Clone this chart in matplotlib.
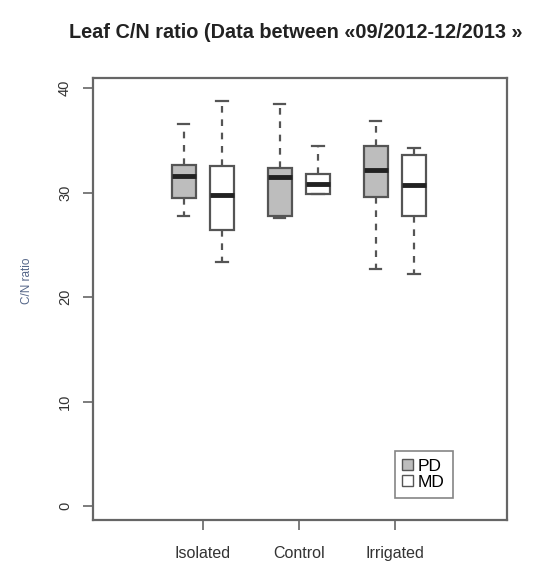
import matplotlib.pyplot as plt
import matplotlib.patches as mpatches

plt.rcParams['font.family'] = ['Liberation Sans', 'DejaVu Sans']

# groups and series
groups = ['Isolated', 'Control', 'Irrigated']
series = ['PD', 'MD']

# box statistics (per group: PD, MD)
whis_hi = [[36.6, 38.8], [38.5, 34.5], [36.9, 34.3]]
q3 = [[32.7, 32.6], [32.4, 31.8], [34.5, 33.6]]
medians = [[31.6, 29.8], [31.5, 30.8], [32.2, 30.7]]
q1 = [[29.5, 26.4], [27.8, 29.9], [29.6, 27.8]]
whis_lo = [[27.8, 23.4], [27.6, 29.9], [22.7, 22.2]]

fill_colors = {'PD': '#bdbdbd', 'MD': 'white'}
edge = '#555555'

fig = plt.figure(figsize=(5.37, 5.68), dpi=100)
ax = fig.add_axes([0.173, 0.085, 0.771, 0.778])

for s_i, s in enumerate(series):
    stats = []
    pos = []
    for g_i in range(len(groups)):
        stats.append({
            'med': medians[g_i][s_i], 'q1': q1[g_i][s_i], 'q3': q3[g_i][s_i],
            'whislo': whis_lo[g_i][s_i], 'whishi': whis_hi[g_i][s_i], 'fliers': [],
        })
        pos.append(g_i + 1 + (-0.2 if s_i == 0 else 0.2))
    ax.bxp(stats, positions=pos, widths=0.25, patch_artist=True, showfliers=False,
           boxprops=dict(facecolor=fill_colors[s], edgecolor=edge, linewidth=1.6),
           medianprops=dict(color='#222222', linewidth=3.5),
           whiskerprops=dict(color=edge, linewidth=1.6, linestyle=(0, (3, 3))),
           capprops=dict(color=edge, linewidth=1.6),
           capwidths=0.12)

ax.set_xlim(-0.146, 4.167)
ax.set_ylim(-1.3, 41.0)
ax.set_xticks([1, 2, 3])
ax.set_xticklabels(groups, fontsize=11.5, color='#333333')
ax.set_yticks([0, 10, 20, 30, 40])
ax.set_yticklabels(['0', '10', '20', '30', '40'], rotation=90, va='center',
                   fontsize=10.5, color='#333333')
ax.tick_params(axis='both', length=7, width=1.2, color='#666666', pad=8)
ax.tick_params(axis='x', pad=12)
for sp in ax.spines.values():
    sp.set_color('#666666')
    sp.set_linewidth(1.6)

ax.set_ylabel('C/N ratio', fontsize=8.5, color='#556688')
ax.yaxis.set_label_coords(-0.145, 0.54)
fig.suptitle('Leaf C/N ratio (Data between «09/2012-12/2013 »', x=0.55, y=0.96,
             fontsize=14.3, fontweight='bold', color='#222222')

handles = [mpatches.Patch(facecolor=fill_colors[s], edgecolor=edge, label=s) for s in series]
leg = ax.legend(handles=handles, loc='lower right', bbox_to_anchor=(0.89, 0.03),
                fontsize=12.5, frameon=True, fancybox=False, handlelength=0.6,
                handleheight=0.6, handletextpad=0.3, borderpad=0.45, labelspacing=0.05)
leg.get_frame().set_edgecolor('#666666')
leg.get_frame().set_linewidth(1.2)

fig.savefig('out.png', dpi=100)
